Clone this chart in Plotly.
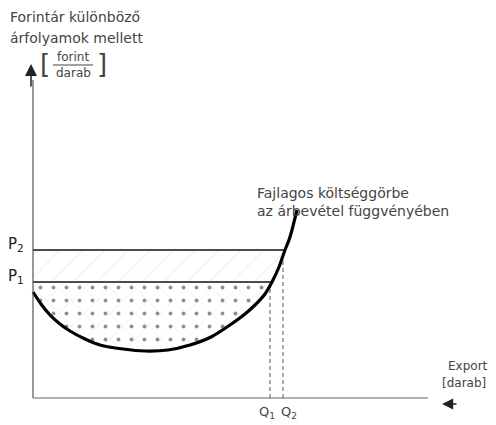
import plotly.graph_objects as go

# Conceptual units: x = export quantity, y = forint per piece (origin at axes corner)
P_labels = ["P<sub>1</sub>", "P<sub>2</sub>"]
P_values = [116, 148]
Q_labels = ["Q<sub>1</sub>", "Q<sub>2</sub>"]
Q_values = [237, 250]
curve_x = [0, 8, 17, 27, 37, 52, 67, 90, 112, 135, 157, 178, 197, 212, 222, 232, 239, 246, 252, 256, 259, 262, 264]
curve_y = [106, 94, 83, 74, 67, 59, 53, 49, 47, 48, 53, 61, 73, 84, 93, 104, 116, 131, 148, 158, 168, 180, 188]

title_lines = ["Forintár különböző", "árfolyamok mellett"]
unit_num = "forint"
unit_den = "darab"
curve_label = ["Fajlagos költséggörbe", "az árbevétel függvényében"]
x_label = ["Export", "[darab]"]

FONT = "DejaVu Sans"
TXT = "#444444"

fig = go.Figure()

P1, P2 = P_values
low = [(x, y) for x, y in zip(curve_x, curve_y) if y <= P1]
band = [(x, y) for x, y in zip(curve_x, curve_y) if P1 <= y <= P2]

# lower region (between P1 and curve): sparse dots + faint cross hatch
lx = [0] + [p[0] for p in low][::-1]
ly = [P1] + [p[1] for p in low][::-1]
for shape, size, sol, col in [("x", 18, 0.04, "#b0b0b0"), (".", 13, 0.07, "#222222")]:
    fig.add_trace(go.Scatter(x=lx, y=ly, fill="toself", mode="none",
                             fillcolor="rgba(0,0,0,0)",
                             fillpattern=dict(shape=shape, size=size, solidity=sol,
                                              fgcolor=col, fillmode="overlay"),
                             hoverinfo="skip", showlegend=False))

# band between P1 and P2: light hatching
bx = [0] + [p[0] for p in band] + [0]
by = [P1] + [p[1] for p in band] + [P2]
fig.add_trace(go.Scatter(x=bx, y=by, fill="toself", mode="none",
                         fillcolor="rgba(0,0,0,0)",
                         fillpattern=dict(shape="/", size=16, solidity=0.04,
                                          fgcolor="#b5b5b5", fillmode="overlay"),
                         hoverinfo="skip", showlegend=False))

# horizontal price lines
for p, xe in zip(P_values, [band[0][0], band[-1][0]]):
    fig.add_trace(go.Scatter(x=[0, xe], y=[p, p], mode="lines",
                             line=dict(color="#111111", width=1.6),
                             hoverinfo="skip", showlegend=False))

# vertical dashed lines to Q1, Q2
for q, p in zip(Q_values, P_values):
    fig.add_trace(go.Scatter(x=[q, q], y=[0, p], mode="lines",
                             line=dict(color="#666666", width=1.1, dash="4px,3px"),
                             hoverinfo="skip", showlegend=False))

# cost curve
fig.add_trace(go.Scatter(x=curve_x, y=curve_y, mode="lines",
                         line=dict(color="#000000", width=3.2, shape="spline", smoothing=0.6),
                         hoverinfo="skip", showlegend=False))

# axes
fig.add_trace(go.Scatter(x=[0, 0], y=[0, 318], mode="lines",
                         line=dict(color="#555555", width=1.2),
                         hoverinfo="skip", showlegend=False))
fig.add_trace(go.Scatter(x=[0, 395], y=[0, 0], mode="lines",
                         line=dict(color="#666666", width=1.2),
                         hoverinfo="skip", showlegend=False))
fig.add_annotation(x=-2, y=334, ax=-2, ay=310, xref="x", yref="y", axref="x", ayref="y",
                   showarrow=True, arrowhead=2, arrowsize=1.6, arrowwidth=1.5,
                   arrowcolor="#222222", text="")
fig.add_annotation(x=409, y=-6, ax=425, ay=-6, xref="x", yref="y", axref="x", ayref="y",
                   showarrow=True, arrowhead=2, arrowsize=1.4, arrowwidth=1.6,
                   arrowcolor="#222222", text="")

# texts
for i, t in enumerate(title_lines):
    fig.add_annotation(x=-25, y=381 - i * 21, text=t, xanchor="left", yanchor="middle",
                       showarrow=False, font=dict(family=FONT, size=14, color=TXT))
fig.add_annotation(x=40, y=341, text=unit_num, showarrow=False,
                   font=dict(family=FONT, size=12, color=TXT))
fig.add_annotation(x=40, y=325, text=unit_den, showarrow=False,
                   font=dict(family=FONT, size=12, color=TXT))
fig.add_shape(type="line", x0=20, x1=60, y0=333, y1=333, line=dict(color=TXT, width=1))
fig.add_annotation(x=12, y=334, text="[", showarrow=False,
                   font=dict(family=FONT, size=26, color=TXT))
fig.add_annotation(x=69, y=334, text="]", showarrow=False,
                   font=dict(family=FONT, size=26, color=TXT))

for lab, p in zip(P_labels, P_values):
    fig.add_annotation(x=-7, y=p + 6, text=lab, xanchor="right", showarrow=False,
                       font=dict(family=FONT, size=15, color="#222222"))
for lab, q in zip(Q_labels, Q_values):
    fig.add_annotation(x=q + (-3 if q == Q_values[0] else 6), y=-14, text=lab,
                       showarrow=False, font=dict(family=FONT, size=13, color=TXT))

for i, t in enumerate(curve_label):
    fig.add_annotation(x=222, y=205 - i * 18, text=t, xanchor="left", showarrow=False,
                       font=dict(family=FONT, size=14, color=TXT))
for i, t in enumerate(x_label):
    fig.add_annotation(x=457 - i * 2, y=32 - i * 17, text=t, xanchor="right", showarrow=False,
                       font=dict(family=FONT, size=12, color=TXT))

# the page adds an 8px body margin, so the figure is 8px smaller than the window
fig.update_layout(
    width=488, height=417,
    margin=dict(l=0, r=0, t=0, b=0),
    paper_bgcolor="white", plot_bgcolor="white",
    xaxis=dict(range=[-25, 463], visible=False, fixedrange=True),
    yaxis=dict(range=[-27, 390], visible=False, fixedrange=True),
    showlegend=False,
)

fig.write_html("out.html")
